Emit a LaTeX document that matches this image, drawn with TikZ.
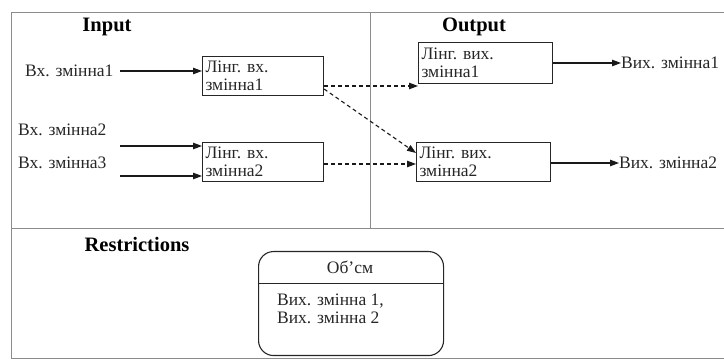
\documentclass[tikz,border=0pt]{standalone}
\usepackage{fontspec}
\setmainfont{Liberation Serif}
\usetikzlibrary{arrows.meta}
\tikzset{
  frameline/.style={draw=black!45, line width=0.8pt},
  lbox/.style={draw=black!85, line width=1.1pt, rectangle, anchor=north west, align=flush left,
     inner xsep=2pt, inner ysep=1pt, font=\fontsize{17.5}{18}\selectfont, text=black!85},
  lbl/.style={font=\fontsize{17.5}{18}\selectfont, text=black!85, inner sep=0pt},
  head/.style={font=\fontsize{20.5}{22}\selectfont\bfseries, text=black, inner sep=0pt},
  solidarrow/.style={-{Triangle[length=9pt,width=6.5pt]}, line width=1.1pt, draw=black!90},
  dasharrow/.style={-{Triangle[length=9pt,width=6.5pt]}, dashed, dash pattern=on 4pt off 3pt, line width=1.1pt, draw=black!90},
}
\begin{document}
\begin{tikzpicture}[x=1pt,y=-1pt]
\useasboundingbox (0,0) rectangle (724,363);
% frame
\draw[frameline] (11,12) -- (724,12);
\draw[frameline] (11,12) -- (11,358) -- (724,358);
\draw[frameline] (11,228) -- (724,228);
\draw[frameline] (370,12) -- (370,228);
% headings
\node[head] (hin) at (107,27) {Input};
\node[head] (hout) at (474,27) {Output};
\node[head] (hres) at (137,244) {Restrictions};
% boxes
\node[lbox, minimum width=121pt, minimum height=39pt, text width=115pt] (b1) at (202,56) {Лінг. вх.\\змінна1};
\node[lbox, minimum width=121pt, minimum height=39pt, text width=115pt] (b2) at (202,142) {Лінг. вх.\\змінна2};
\node[lbox, minimum width=134pt, minimum height=41pt, text width=128pt] (b3) at (418,42) {Лінг. вих.\\змінна1};
\node[lbox, minimum width=134pt, minimum height=39pt, text width=128pt] (b4) at (416,142) {Лінг. вих.\\змінна2};
% input labels
\node[lbl, anchor=west] (in1) at (25,71) {Вх. змінна1};
\node[lbl, anchor=west] (in2) at (18,130) {Вх. змінна2};
\node[lbl, anchor=west] (in3) at (18,163) {Вх. змінна3};
\coordinate (s1) at (120,71);
\coordinate (s2) at (120,146);
\coordinate (s3) at (120,176);
\draw[solidarrow] (s1) -- (b1.west |- s1);
\draw[solidarrow] (s2) -- (b2.west |- s2);
\draw[solidarrow] (s3) -- (b2.west |- s3);
% output labels
\node[lbl, anchor=west] (out1) at (621,63) {Вих. змінна1};
\node[lbl, anchor=west] (out2) at (619,163) {Вих. змінна2};
\draw[solidarrow] (b3.east |- out1) -- (out1.west);
\draw[solidarrow] (b4.east |- out2) -- (out2.west);
% dashed connectors
\coordinate (d1) at (323,86);
\coordinate (d2) at (323,89);
\coordinate (d3) at (323,164);
\coordinate (e2) at (416,153);
\draw[dasharrow] (b1.east |- d1) -- (b3.west |- d1);
\draw[dasharrow] (b1.east |- d2) -- (b4.west |- e2);
\draw[dasharrow] (b2.east |- d3) -- (b4.west |- d3);
% restrictions box
\node[draw=black!85, line width=1.1pt, rounded corners=15pt, minimum width=185pt, minimum height=104pt, anchor=north west, inner sep=0pt] (rb) at (258,251) {};
\draw[line width=0.8pt, draw=black!85] (rb.west |- 0,283) -- (rb.east |- 0,283);
\node[lbl] (rt) at (350,267) {Об’см};
\node[lbl, anchor=north west, align=left] (rtx) at (277,294) {Вих. змінна 1,\\Вих. змінна 2};
\end{tikzpicture}
\end{document}
